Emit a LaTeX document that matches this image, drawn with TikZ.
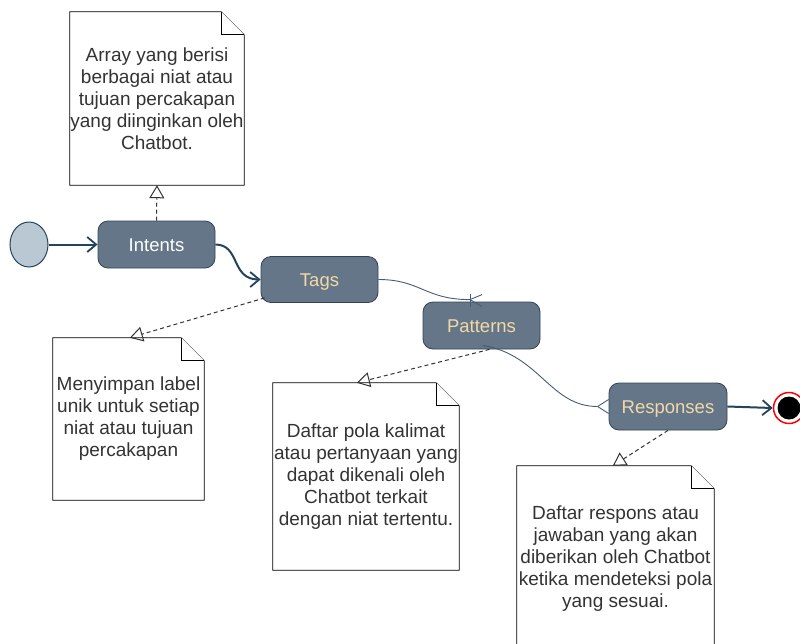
\documentclass[tikz,border=0pt]{standalone}
\usepackage{fontspec}
\setmainfont{Liberation Sans}
\usetikzlibrary{arrows.meta,shapes.geometric,calc}
\definecolor{nodefill}{HTML}{647687}
\definecolor{nodestroke}{HTML}{314354}
\definecolor{startfill}{HTML}{BAC8D3}
\definecolor{darkline}{HTML}{23445D}
\definecolor{labeltan}{HTML}{F2D9A8}
\definecolor{thinline}{HTML}{465C70}
\definecolor{notetextcol}{HTML}{333333}
\newcommand\notepaper[1]{%
  \draw[noteline] (#1.north west) -- ([xshift=-23pt]#1.north east) -- ([yshift=-23pt]#1.north east) -- (#1.south east) -- (#1.south west) -- cycle;
  \draw[noteline] ([xshift=-23pt]#1.north east) -- ([xshift=-23pt,yshift=-23pt]#1.north east) -- ([yshift=-23pt]#1.north east);}
\begin{document}
\begin{tikzpicture}[x=1pt,y=-1pt,
  statebox/.style={rectangle, rounded corners=10pt, fill=nodefill, draw=nodestroke, line width=0.8pt,
    minimum width=117pt, minimum height=47pt, inner sep=0pt, text height=13.3pt, text depth=0pt,
    font=\fontsize{18.5}{22}\selectfont, text=labeltan},
  notebox/.style={rectangle, inner sep=0pt, align=center, font=\fontsize{19}{22}\selectfont, text=notetextcol},
  noteline/.style={draw=black, line width=0.8pt, fill=white},
  thickarrow/.style={draw=darkline, line width=2pt, -{Straight Barb[length=9pt,width=15pt,line width=1.8pt]}},
  thinconn/.style={draw=thinline, line width=0.9pt},
  dashconn/.style={draw=notetextcol, line width=1pt, dash pattern=on 4pt off 3pt, -{Triangle[open,length=13pt,width=15pt,line width=1pt]}},
]
\useasboundingbox (0,0) rectangle (800,643);

% notes
\node[notebox, minimum width=174pt, minimum height=173pt] (n1) at (157,98.5) {};
\notepaper{n1}
\node[notebox] at (n1.center) {Array yang berisi\\berbagai niat atau\\tujuan percakapan\\yang diinginkan oleh\\Chatbot.};

\node[notebox, minimum width=151pt, minimum height=162pt] (n2) at (128.5,419) {};
\notepaper{n2}
\node[notebox] at (n2.center) {Menyimpan label\\unik untuk setiap\\niat atau tujuan\\percakapan};

\node[notebox, minimum width=186pt, minimum height=187pt] (n3) at (366,476.5) {};
\notepaper{n3}
\node[notebox] at (n3.center) {Daftar pola kalimat\\atau pertanyaan yang\\dapat dikenali oleh\\Chatbot terkait\\dengan niat tertentu.};

\node[notebox, minimum width=197pt, minimum height=186pt] (n4) at (615.5,559) {};
\notepaper{n4}
\node[notebox] at (n4.center) {Daftar respons atau\\jawaban yang akan\\diberikan oleh Chatbot\\ketika mendeteksi pola\\yang sesuai.};

% states
\node[ellipse, fill=startfill, draw=darkline, line width=1pt, minimum width=38pt, minimum height=45pt, inner sep=0pt] (start) at (29,244.5) {};
\node[statebox, text=white] (intents) at (156.5,244.5) {Intents};
\node[statebox, minimum height=46pt] (tags) at (319.5,279.5) {Tags};
\node[statebox] (patterns) at (481.5,325.5) {Patterns};
\node[statebox, minimum width=118pt] (responses) at (668,406.5) {Responses};
\node[circle, draw=red, line width=1.5pt, fill=white, minimum size=31pt, inner sep=0pt] (end) at (789,408) {};
\fill[black] (end.center) circle[radius=11.5pt];

% thick connectors
\draw[thickarrow] (start.east) -- (intents.west);
\draw[thickarrow] (intents.east) .. controls +(25,0) and +(-30,0) .. (tags.west);
\draw[thickarrow] (responses.east) -- (end.west);

% thin connectors with ER markers
\coordinate (tp) at ([xshift=-11.5pt,yshift=2pt]patterns.north);
\draw[thinconn] (tags.east) .. controls +(42,0) and +(-45,0) .. (tp);
\draw[thinconn] ([yshift=6pt]tp) -- ([yshift=-7pt]tp);
\draw[thinconn] (tp) -- ([xshift=12pt,yshift=5pt]tp);
\draw[thinconn] (tp) -- ([xshift=12pt,yshift=-7pt]tp);

\coordinate (ps) at ([xshift=1.5pt,yshift=4pt]patterns.south);
\coordinate (pr) at ([xshift=-11pt]responses.west);
\draw[thinconn] (ps) .. controls (540,355) and (550,406.5) .. (pr);
\draw[thinconn] (pr) -- ([yshift=7pt]responses.west);
\draw[thinconn] (pr) -- ([yshift=-7pt]responses.west);

% dashed note connectors
\draw[dashconn] (intents.north) -- (n1.south);
\draw[dashconn] ([shift={(4,-5)}]tags.south west) -- ([xshift=77pt]n2.north west);
\draw[dashconn] ([xshift=8pt]patterns.south) -- ([xshift=84pt]n3.north west);
\draw[dashconn] (responses.south) -- ([xshift=96pt]n4.north west);
\end{tikzpicture}
\end{document}
